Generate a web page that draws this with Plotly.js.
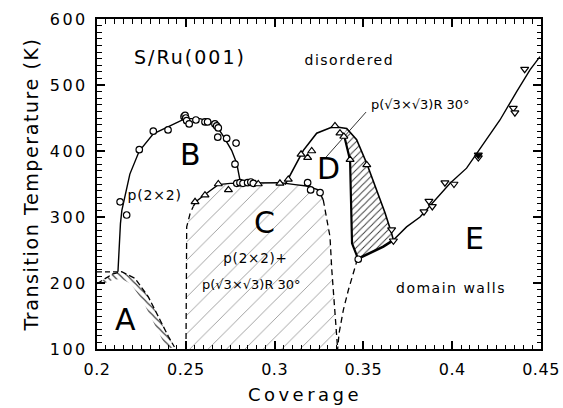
<!DOCTYPE html>
<html>
<head>
<meta charset="utf-8">
<script src="https://cdn.plot.ly/plotly-3.0.1.min.js"></script>
<style>
  body { margin: 0; background: #fff; }
  #chart { width: 563px; height: 408px; }
  .ytick text { letter-spacing: 2.5px; }
  .xtick text { letter-spacing: 0.5px; }
  .xtitle { letter-spacing: 3.5px; }
  .ytitle { letter-spacing: 1.6px; }
</style>
</head>
<body>
<div id="chart"></div>
<script>
// ---- data ----
// open circles: p(2x2) transition points
const circX = [0.2130, 0.2167, 0.2238, 0.2317, 0.2400, 0.2490, 0.2496, 0.2500, 0.2505, 0.2519, 0.2557,
               0.2608, 0.2623, 0.2664, 0.2674, 0.2683, 0.2680, 0.2730, 0.2783, 0.2777,
               0.2787, 0.2805, 0.2822, 0.2848, 0.2866, 0.2880,
               0.3186, 0.3203, 0.3256, 0.3471];
const circY = [323, 303, 402, 430, 432, 452, 454, 450, 446, 441, 447,
               444, 444, 441, 438, 435, 421, 419, 412, 380,
               351, 352, 351, 352, 353, 351,
               352, 341, 337, 236];
// up triangles: sqrt3 phase transition points
const triUpX = [0.2552, 0.2608, 0.2683, 0.2740, 0.2908, 0.3030, 0.3077, 0.3149, 0.3186, 0.3209,
                0.3340, 0.3368, 0.3390, 0.3425, 0.3519];
const triUpY = [323, 333, 350, 341, 350, 351, 357, 395, 390, 400,
                438, 427, 422, 387, 379];
// down triangles: domain-wall phase points
const triDnX = [0.3659, 0.3669, 0.3841, 0.3869, 0.3888, 0.3959, 0.4010, 0.4147, 0.4344, 0.4353, 0.4408];
const triDnY = [281, 264, 308, 324, 316, 352, 350, 390, 465, 458, 524];
const triDnFillX = [0.4147];
const triDnFillY = [394];

// phase boundaries
const bLineX = [0.2118, 0.2125, 0.2132, 0.2140, 0.2155, 0.2185, 0.2238, 0.2317, 0.2411, 0.2496, 0.2580,
                0.2664, 0.2712, 0.2758, 0.2787, 0.2805, 0.2814];
const bLineY = [217, 260, 290, 310, 330, 365, 400, 426, 438, 449, 449,
                442, 422, 401, 381, 356, 351];
const cTopX = [0.2542, 0.2560, 0.2608, 0.2650, 0.2683, 0.2750, 0.2900, 0.3030, 0.3115, 0.3180, 0.3246, 0.3274];
const cTopY = [316, 324, 334, 342, 349, 351, 352, 352, 349, 347, 341, 326];
const cLeftX = [0.2501, 0.2501, 0.2505, 0.2524, 0.2542];
const cLeftY = [100, 250, 285, 305, 316];
const cRightX = [0.3274, 0.3293, 0.3312, 0.3322, 0.3340, 0.3353, 0.3355];
const cRightY = [326, 295, 270, 220, 159, 114, 100];
const dLineX = [0.3059, 0.3124, 0.3162, 0.3237, 0.3331, 0.3406, 0.3462, 0.3519, 0.3575, 0.3622, 0.3659, 0.3669];
const dLineY = [349, 381, 401, 427, 437, 434, 417, 381, 341, 306, 275, 265];
const dInnerX = [0.3390, 0.3415, 0.3425, 0.3428, 0.3432, 0.3436, 0.3471];
const dInnerY = [425, 400, 386, 350, 300, 260, 236];
const eBoldX = [0.3471, 0.3537, 0.3612, 0.3669];
const eBoldY = [237, 245, 255, 265];
const eLineX = [0.3669, 0.3743, 0.3819, 0.3894, 0.3988, 0.4081, 0.4176, 0.4269, 0.4363, 0.4438, 0.4494];
const eLineY = [265, 285, 300, 323, 351, 374, 411.5, 447, 490, 523, 543];
const eLeftX = [0.3471, 0.3462, 0.3415, 0.3387, 0.3363, 0.3355];
const eLeftY = [236, 232, 189, 159, 124, 100];
const aOuterX = [0.2000, 0.2045, 0.2090, 0.2139, 0.2214, 0.2289, 0.2345, 0.2402, 0.2436];
const aOuterY = [199, 207, 214, 217, 207, 179, 149, 119, 103];
const aInnerX = [0.2000, 0.2045, 0.2090, 0.2139, 0.2190, 0.2255, 0.2310, 0.2364, 0.2398];
const aInnerY = [199, 200, 205, 206, 199, 174, 146, 116, 100];
const aHorizX = [0.2000, 0.2118];
const aHorizY = [217, 217];
const leaderX = [0.3515, 0.3284];
const leaderY = [459, 389];

// labels
const labelText = ['S/Ru(001)', 'disordered', 'A', 'B', 'C', 'D', 'E', 'p(2×2)', 'p(2×2)+',
                   'p(√3×√3)R 30°', 'p(√3×√3)R 30°', 'domain walls'];
const labelX = [0.2522, 0.3419, 0.2158, 0.2529, 0.2944, 0.3306, 0.4127, 0.2321, 0.2890, 0.2870, 0.3824, 0.3993];
const labelY = [542, 538, 145, 394, 292, 374, 267, 333, 238, 197, 470, 192];
const labelSize = [19, 14, 30, 30, 30, 30, 30, 14, 13.5, 13, 13, 14];

// axis ranges and minor tick steps
const xRange = [0.2, 0.45], xMinorDtick = 0.005;
const yRange = [100, 600], yMinorDtick = 10;

// ---- build ----
const F = 'DejaVu Sans, Liberation Sans, sans-serif';
function line(x, y, w, dash) {
  return {x, y, type: 'scatter', mode: 'lines', hoverinfo: 'skip', showlegend: false,
          line: {color: '#000', width: w, dash: dash || 'solid'}};
}
function poly(x, y, shape, fg, size, sol) {
  return {x, y, type: 'scatter', mode: 'lines', fill: 'toself', hoverinfo: 'skip', showlegend: false,
          line: {width: 0, color: 'rgba(0,0,0,0)'}, fillcolor: 'rgba(0,0,0,0)',
          fillpattern: {shape, fgcolor: fg, bgcolor: 'rgba(0,0,0,0)', size, solidity: sol}};
}
const cPolyX = cLeftX.concat(cTopX, cRightX);
const cPolyY = cLeftY.concat(cTopY, cRightY);
const dPolyX = dInnerX.concat(eBoldX, dLineX.slice(5).reverse());
const dPolyY = dInnerY.concat(eBoldY, dLineY.slice(5).reverse());
const aPolyX = aOuterX.concat(aInnerX.slice().reverse());
const aPolyY = aOuterY.concat(aInnerY.slice().reverse());

const traces = [
  poly(cPolyX, cPolyY, '/', '#9a9a9a', 13, 0.07),
  poly(dPolyX, dPolyY, '/', '#333', 5, 0.18),
  poly(aPolyX, aPolyY, '\\', '#333', 5, 0.22),
  line(bLineX, bLineY, 1.4),
  line(cTopX, cTopY, 1.4),
  line(cLeftX, cLeftY, 1.3, '6px,4px'),
  line(cRightX, cRightY, 1.3, '6px,4px'),
  line(dLineX, dLineY, 1.6),
  line(dInnerX, dInnerY, 2.2),
  line(eBoldX, eBoldY, 2.6),
  line(eLineX, eLineY, 1.4),
  line(eLeftX, eLeftY, 1.3, '6px,4px'),
  line(aOuterX, aOuterY, 1.3, '6px,3px'),
  line(aHorizX, aHorizY, 1.3, '5px,3px'),
  line(leaderX, leaderY, 0.8),
  {x: circX, y: circY, type: 'scatter', mode: 'markers', showlegend: false,
   marker: {symbol: 'circle', size: 6.5, color: '#fff', line: {color: '#000', width: 1.2}}},
  {x: triUpX, y: triUpY, type: 'scatter', mode: 'markers', showlegend: false,
   marker: {symbol: 'triangle-up', size: 7, color: '#fff', line: {color: '#000', width: 1.2}}},
  {x: triDnX, y: triDnY, type: 'scatter', mode: 'markers', showlegend: false,
   marker: {symbol: 'triangle-down', size: 7, color: '#fff', line: {color: '#000', width: 1.2}}},
  {x: triDnFillX, y: triDnFillY, type: 'scatter', mode: 'markers', showlegend: false,
   marker: {symbol: 'triangle-down', size: 7, color: '#000', line: {color: '#000', width: 1.2}}}
];

const annotations = labelText.map((t, i) => ({
  x: labelX[i], y: labelY[i], xref: 'x', yref: 'y', text: t, showarrow: false,
  xanchor: 'center', yanchor: 'middle',
  font: {family: F, size: labelSize[i], color: '#000'}
}));

const axisCommon = {
  showgrid: false, zeroline: false, showline: true, linecolor: '#000', linewidth: 2,
  mirror: 'allticks', ticks: 'inside', ticklen: 8, tickwidth: 1.5, tickcolor: '#000',
  tickfont: {family: F, size: 16, color: '#000'}, nticks: 7
};

const layout = {
  width: 563, height: 408,
  margin: {l: 97, r: 22, t: 19, b: 59},
  paper_bgcolor: '#fff', plot_bgcolor: '#fff',
  font: {family: F, color: '#000'},
  showlegend: false,
  xaxis: Object.assign({}, axisCommon, {
    range: xRange,
    minor: {dtick: xMinorDtick, ticks: 'inside', ticklen: 4.5, tickwidth: 1.2, tickcolor: '#000'},
    ticklabelstandoff: 5,
    title: {text: 'Coverage', font: {family: F, size: 18, color: '#000'}, standoff: 10}
  }),
  yaxis: Object.assign({}, axisCommon, {
    range: yRange,
    minor: {dtick: yMinorDtick, ticks: 'inside', ticklen: 4.5, tickwidth: 1.2, tickcolor: '#000'},
    ticklabelstandoff: 4,
    title: {text: 'Transition Temperature (K)', font: {family: F, size: 19, color: '#000'}, standoff: 6}
  }),
  annotations
};

Plotly.newPlot('chart', traces, layout, {displayModeBar: false}).then(() => {
  const spacing = {'S/Ru(001)': '2px', 'disordered': '1.5px', 'domain walls': '1.5px', 'p(2×2)': '0.8px', 'p(2×2)+': '0.8px'};
  document.querySelectorAll('.annotation-text').forEach(el => {
    const s = spacing[el.textContent];
    if (s) el.style.letterSpacing = s;
  });
  const xt = document.querySelector('.xtitle');
  if (xt) xt.setAttribute('x', 305);
});
</script>
</body>
</html>
